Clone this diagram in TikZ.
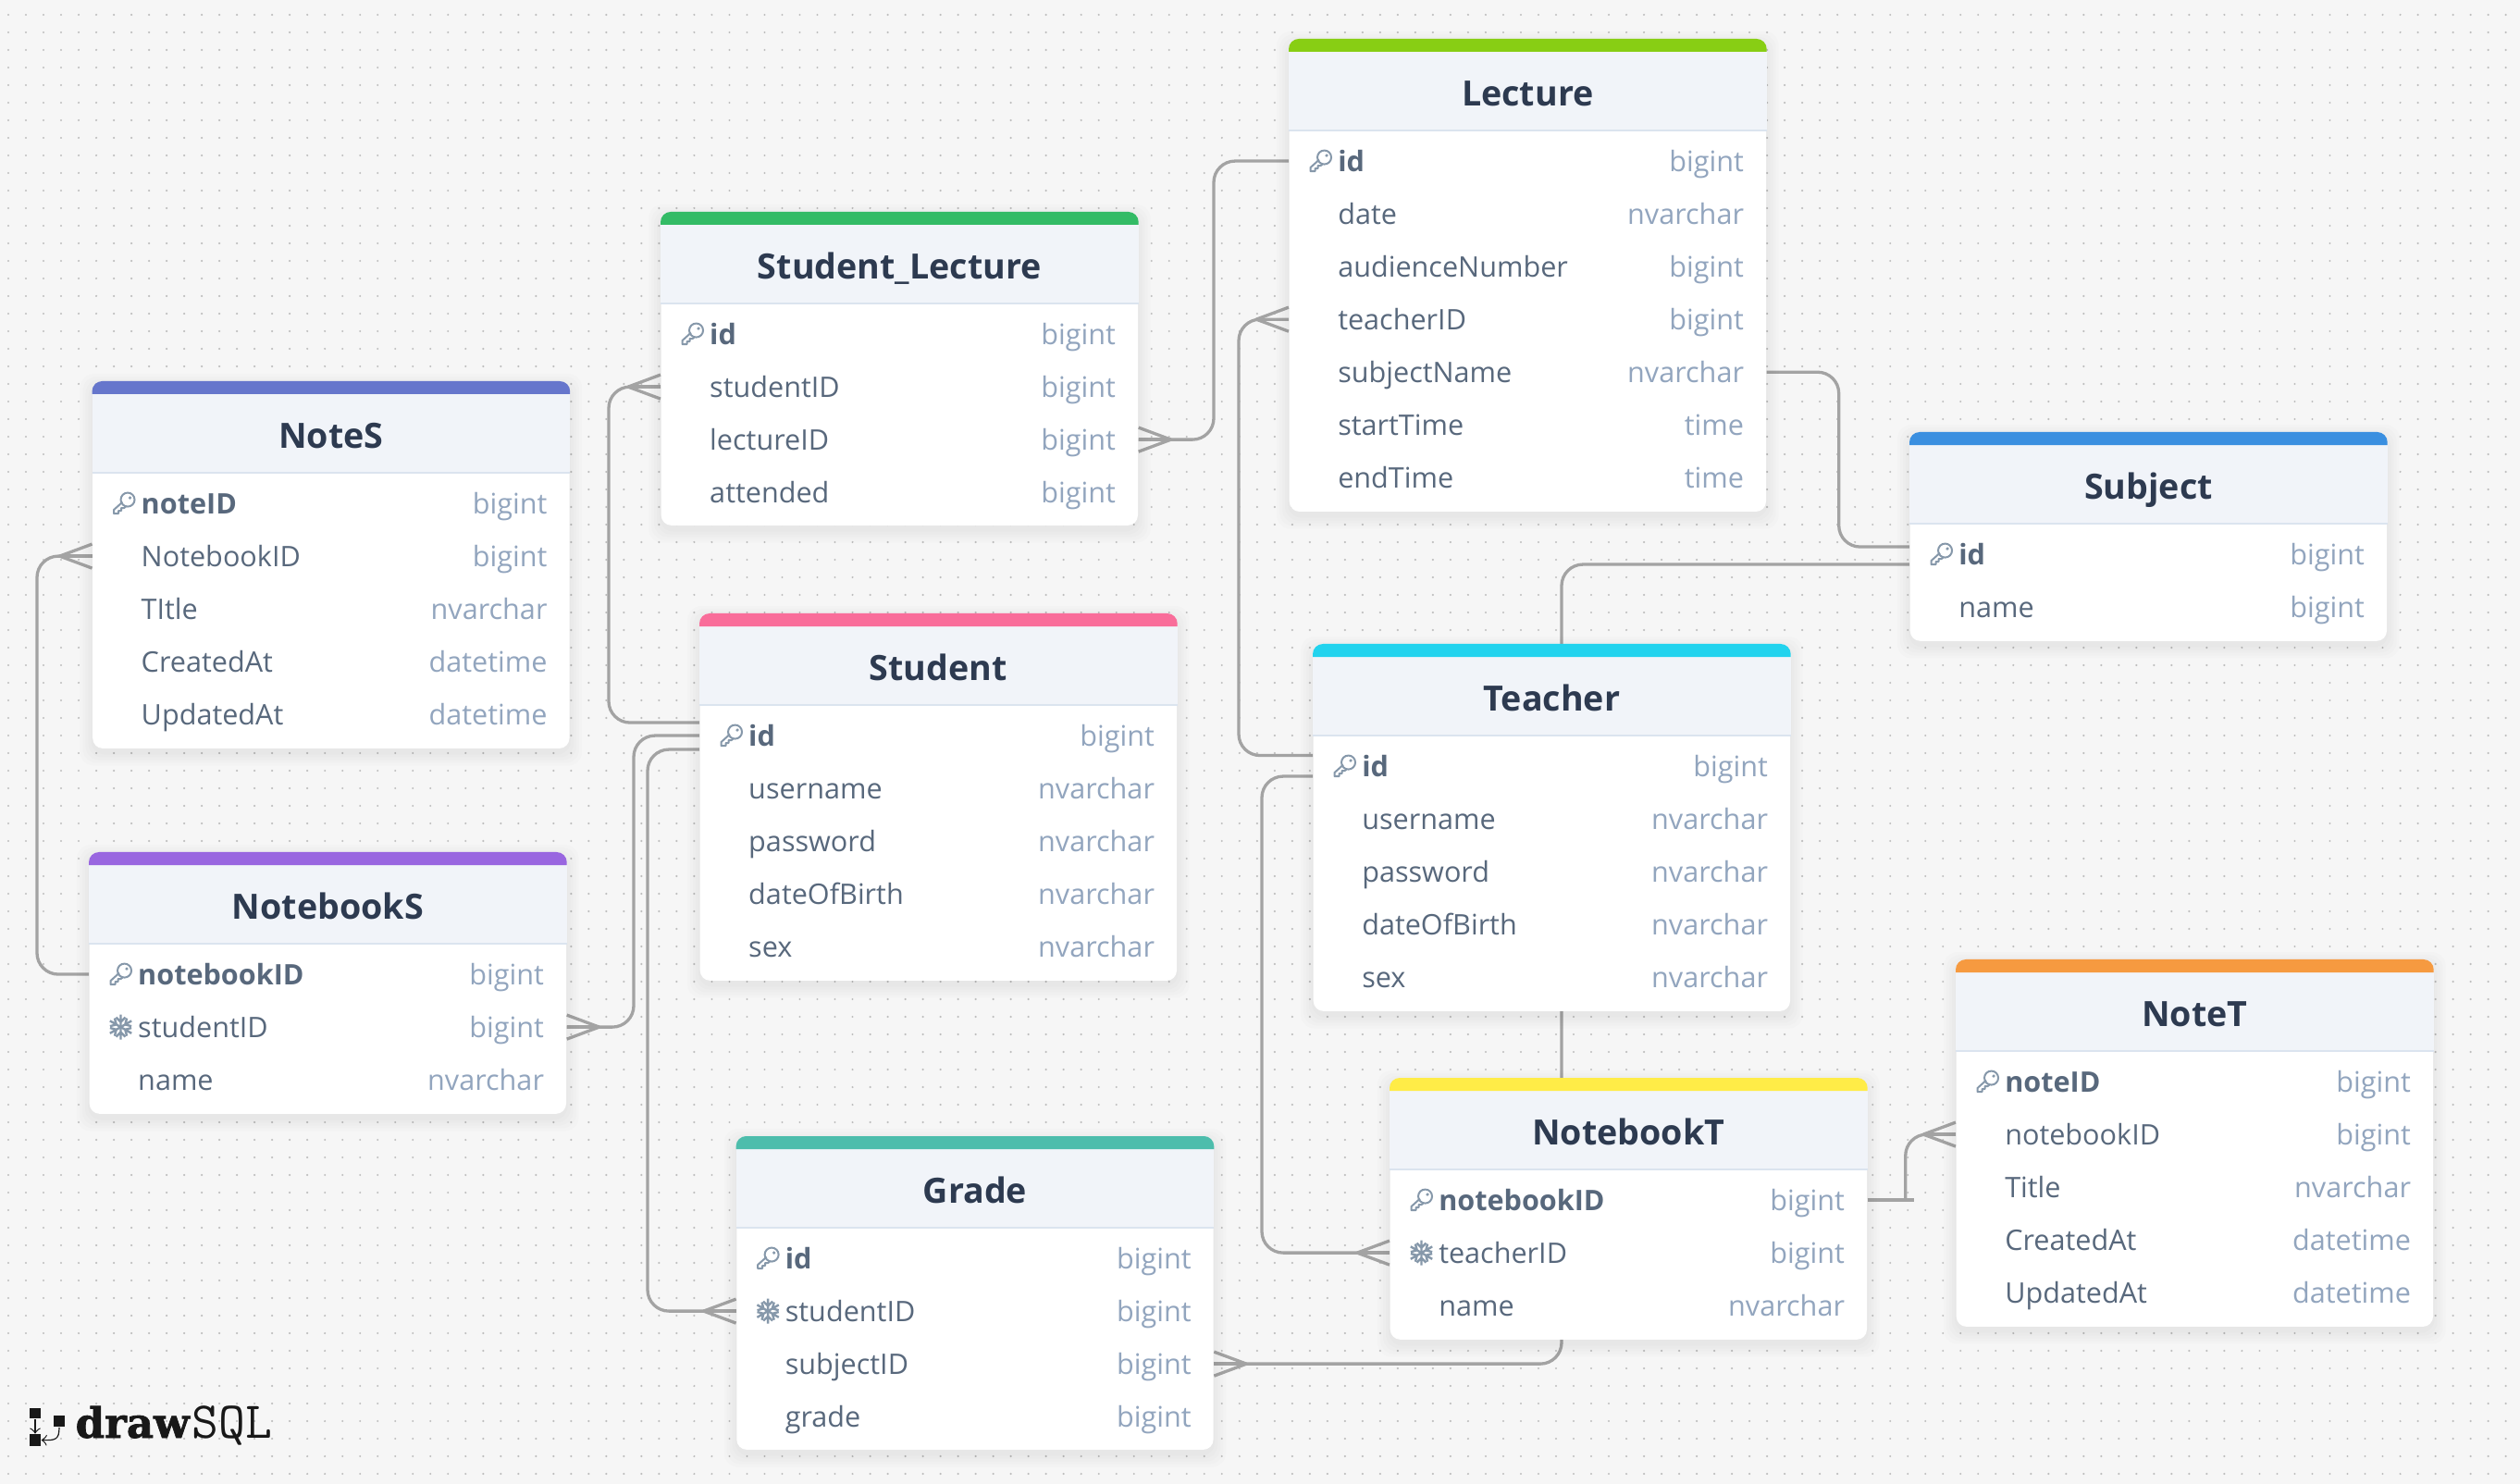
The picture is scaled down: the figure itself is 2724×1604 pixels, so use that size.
\documentclass[tikz,border=0pt]{standalone}
\usepackage{fontspec}
\setmainfont{Open Sans}
\newfontfamily\logobold{DejaVu Serif Bold}[FakeBold=1.6]
\usepackage{tikz}
\usetikzlibrary{calc}
\usetikzlibrary{arrows}
\usetikzlibrary{positioning}
\definecolor{paper}{RGB}{246, 246, 246}
\definecolor{griddot}{RGB}{190, 190, 190}
\definecolor{relgray}{RGB}{163, 163, 163}
\definecolor{headfill}{RGB}{241, 244, 249}
\definecolor{headrule}{RGB}{219, 228, 239}
\definecolor{titleink}{RGB}{45, 58, 80}
\definecolor{fieldink}{RGB}{88, 104, 124}
\definecolor{typeink}{RGB}{146, 165, 190}
\definecolor{iconink}{RGB}{134, 152, 170}
\definecolor{logoink}{RGB}{24, 24, 24}
\definecolor{lime}{RGB}{136, 206, 20}
\definecolor{leaf}{RGB}{51, 187, 102}
\definecolor{indigo}{RGB}{102, 118, 204}
\definecolor{rose}{RGB}{249, 109, 154}
\definecolor{azure}{RGB}{58, 143, 224}
\definecolor{aqua}{RGB}{34, 211, 238}
\definecolor{grape}{RGB}{153, 102, 224}
\definecolor{jade}{RGB}{77, 189, 172}
\definecolor{lemon}{RGB}{255, 236, 71}
\definecolor{amber}{RGB}{246, 154, 64}
\pgfdeclarelayer{under}
\pgfdeclarelayer{shade}
\pgfsetlayers{under,shade,main}
\tikzset{
    erbody/.style={rectangle, fill=white, rounded corners=.11cm, minimum width=5.15cm, inner sep=0pt, anchor=north west},
    ertitle/.style={anchor=base, text=titleink, font=\fontsize{10.7}{13}\selectfont\bfseries},
    errow/.style={rectangle, minimum width=5.15cm, minimum height=.57cm, inner sep=0pt},
    fieldk/.style={anchor=base west, inner sep=0pt, text=fieldink, font=\fontsize{8.7}{10}\selectfont\bfseries},
    fieldf/.style={anchor=base west, inner sep=0pt, text=fieldink, font=\fontsize{8.7}{10}\selectfont},
    fieldn/.style={anchor=base west, inner sep=0pt, text=fieldink, font=\fontsize{8.7}{10}\selectfont},
    ertype/.style={anchor=base east, inner sep=0pt, text=typeink, font=\fontsize{8.7}{10}\selectfont},
    relline/.style={draw=relgray, line width=.033cm, rounded corners=.23cm},
    crowline/.style={draw=relgray, line width=.033cm},
    pics/iconk/.style={code={
        \draw[iconink, line width=.02cm] (4,-4) circle (7.5);
        \fill[iconink] (6.5,-6) circle (1.8);
        \draw[iconink, line width=.02cm, line join=round] (-1.5,-1.5) -- (-11,7) -- (-11,11) -- (-6,11) -- (-6,8) -- (-3,8) -- (-3,5) -- (0,5) -- (2,3.5);
    }},
    pics/iconf/.style={code={
        \foreach \a in {30,90,...,330} {
            \draw[iconink, line width=.024cm, rotate=\a] (0,0) -- (13.5,0) (5.5,0) -- (10.5,5) (5.5,0) -- (10.5,-5);
        }
    }},
    pics/iconn/.style={code={}},
}
% one table: name, corner, bar colour, title, height, rows
\newcommand{\ertable}[6]{
    \node[erbody, minimum height=#5] (#1) at #2 {};
    \begin{pgfonlayer}{shade}
        \foreach \s in {.01,.04,.07,.10,.13} {
            \fill[black, fill opacity=.012, rounded corners=.15cm] ([xshift=-\s cm, yshift=\s cm-.05cm]#1.north west) rectangle ([xshift=\s cm, yshift=-\s cm-.05cm]#1.south east);
        }
    \end{pgfonlayer}
    \fill[headfill] ([yshift=-.14cm]#1.north west) rectangle ([yshift=-.99cm]#1.north east);
    \draw[headrule, line width=.02cm] ([yshift=-.99cm]#1.north west) -- ([yshift=-.99cm]#1.north east);
    \fill[#3] ([yshift=-.14cm]#1.north west) [rounded corners=.11cm] -- (#1.north west) -- (#1.north east) [sharp corners] -- ([yshift=-.14cm]#1.north east) -- cycle;
    \node[ertitle] (#1-title) at ([yshift=-.725cm]#1.north) {#4};
    \foreach \fld/\typ/\kd [count=\r from 0] in {#6} {
        \node[errow] (#1-\fld) at ([yshift={-1.32cm-\r*.57cm}]#1.north) {};
        \node[field\kd] (#1-\fld-name) at ([xshift=.525cm, yshift=-.11cm]#1-\fld.west) {\fld};
        \node[ertype] (#1-\fld-type) at ([xshift=-.24cm, yshift=-.11cm]#1-\fld.east) {\typ};
        \path ([xshift=.345cm]#1-\fld.west) pic {icon\kd};
    }
}
% crow's foot, opening towards a table edge
\newcommand{\crowwest}[1]{
    \draw[crowline] (#1) ++(-35,0) -- ++(35,-13);
    \draw[crowline] (#1) ++(-35,0) -- ++(35,13);
    \draw[crowline] (#1) ++(-35,0) -- (#1);
}
\newcommand{\croweast}[1]{
    \draw[crowline] (#1) ++(35,0) -- ++(-35,-13);
    \draw[crowline] (#1) ++(35,0) -- ++(-35,13);
    \draw[crowline] (#1) ++(35,0) -- (#1);
}
\begin{document}
\begin{tikzpicture}[x=.01cm, y=-.01cm]
    \useasboundingbox (0,0) rectangle (2724,1604);
    \begin{pgfonlayer}{under}
        \fill[paper] (0,0) rectangle (2724,1604);
        % Dotted canvas
        \foreach \y in {16,35,...,1604} {
            \draw[griddot, line width=.024cm, line cap=round, dash pattern=on 0pt off .19cm] (9,\y) -- (2724,\y);
        }
    \end{pgfonlayer}
    % Tables
    \ertable{lecture}{(1393,42)}{lime}{Lecture}{5.10cm}{id/bigint/k, date/nvarchar/n, audienceNumber/bigint/n, teacherID/bigint/n, subjectName/nvarchar/n, startTime/time/n, endTime/time/n}
    \ertable{studlec}{(714,229)}{leaf}{Student\_Lecture}{3.38cm}{id/bigint/k, studentID/bigint/n, lectureID/bigint/n, attended/bigint/n}
    \ertable{notes}{(99.5,412)}{indigo}{NoteS}{3.96cm}{noteID/bigint/k, NotebookID/bigint/n, TItle/nvarchar/n, CreatedAt/datetime/n, UpdatedAt/datetime/n}
    \ertable{student}{(756,663)}{rose}{Student}{3.96cm}{id/bigint/k, username/nvarchar/n, password/nvarchar/n, dateOfBirth/nvarchar/n, sex/nvarchar/n}
    \ertable{subject}{(2064,467)}{azure}{Subject}{2.25cm}{id/bigint/k, name/bigint/n}
    \ertable{teacher}{(1419,696)}{aqua}{Teacher}{3.96cm}{id/bigint/k, username/nvarchar/n, password/nvarchar/n, dateOfBirth/nvarchar/n, sex/nvarchar/n}
    \ertable{notebooks}{(96,921)}{grape}{NotebookS}{2.82cm}{notebookID/bigint/k, studentID/bigint/f, name/nvarchar/n}
    \ertable{grade}{(795.6,1228)}{jade}{Grade}{3.38cm}{id/bigint/k, studentID/bigint/f, subjectID/bigint/n, grade/bigint/n}
    \ertable{notebookt}{(1502,1165)}{lemon}{NotebookT}{2.82cm}{notebookID/bigint/k, teacherID/bigint/f, name/nvarchar/n}
    \ertable{notet}{(2114,1037)}{amber}{NoteT}{3.96cm}{noteID/bigint/k, notebookID/bigint/n, Title/nvarchar/n, CreatedAt/datetime/n, UpdatedAt/datetime/n}
    % Relations, under the tables
    \begin{pgfonlayer}{under}
        \draw[relline] (lecture-id.west) -- ++(-81,0) |- (studlec-lectureID.east);
        \croweast{studlec-lectureID.east}
        \draw[relline] ([yshift=.14cm]student-id.west) -- ++(-98,0) |- (studlec-studentID.west);
        \crowwest{studlec-studentID.west}
        \draw[relline] (student-id.west) -- ++(-71,0) |- (notebooks-studentID.east);
        \croweast{notebooks-studentID.east}
        \draw[relline] ([yshift=-.15cm]student-id.west) -- ++(-56,0) |- (grade-studentID.west);
        \crowwest{grade-studentID.west}
        \draw[relline] ([yshift=.115cm]teacher-id.west) -- ++(-80,0) |- (lecture-teacherID.west);
        \crowwest{lecture-teacherID.west}
        \draw[relline] ([yshift=-.11cm]teacher-id.west) -- ++(-55,0) |- (notebookt-teacherID.west);
        \crowwest{notebookt-teacherID.west}
        \draw[relline] (lecture-subjectName.east) -- ++(78,0) |- ([yshift=.08cm]subject-id.west);
        \draw[relline] ([yshift=-.11cm]subject-id.west) -- ++(-376,0) |- (grade-subjectID.east);
        \croweast{grade-subjectID.east}
        \draw[relline] (notebooks-notebookID.west) -- ++(-56,0) |- (notes-NotebookID.west);
        \crowwest{notes-NotebookID.west}
        \draw[crowline] (notebookt-notebookID.east) -- ++(50,0);
        \draw[relline] ([xshift=.41cm]notebookt-notebookID.east) |- (notet-notebookID.west);
        \crowwest{notet-notebookID.west}
    \end{pgfonlayer}
    % Logo
    \node[rectangle, fill=logoink, minimum width=.12cm, minimum height=.115cm, inner sep=0pt] (logotop) at (38,1527.5) {};
    \node[rectangle, fill=logoink, minimum width=.12cm, minimum height=.125cm, inner sep=0pt] (logoside) at (64,1536) {};
    \node[rectangle, fill=logoink, minimum width=.12cm, minimum height=.125cm, inner sep=0pt] (logobot) at (38,1556.5) {};
    \draw[->, logoink, line width=.012cm] (logotop) -- (logobot);
    \draw[->, logoink, line width=.012cm] (logoside.south) .. controls (64,1556) and (60,1557) .. (logobot.east);
    \node[anchor=base west, inner sep=0pt, text=logoink, font=\fontsize{12.8}{14}\logobold] (logodraw) at (81,1554) {draw};
    \node[anchor=base west, inner sep=0pt, text=logoink, font=\fontsize{15.9}{18}\ttfamily] (logosql) at (207,1554) {SQL};
\end{tikzpicture}
\end{document}
